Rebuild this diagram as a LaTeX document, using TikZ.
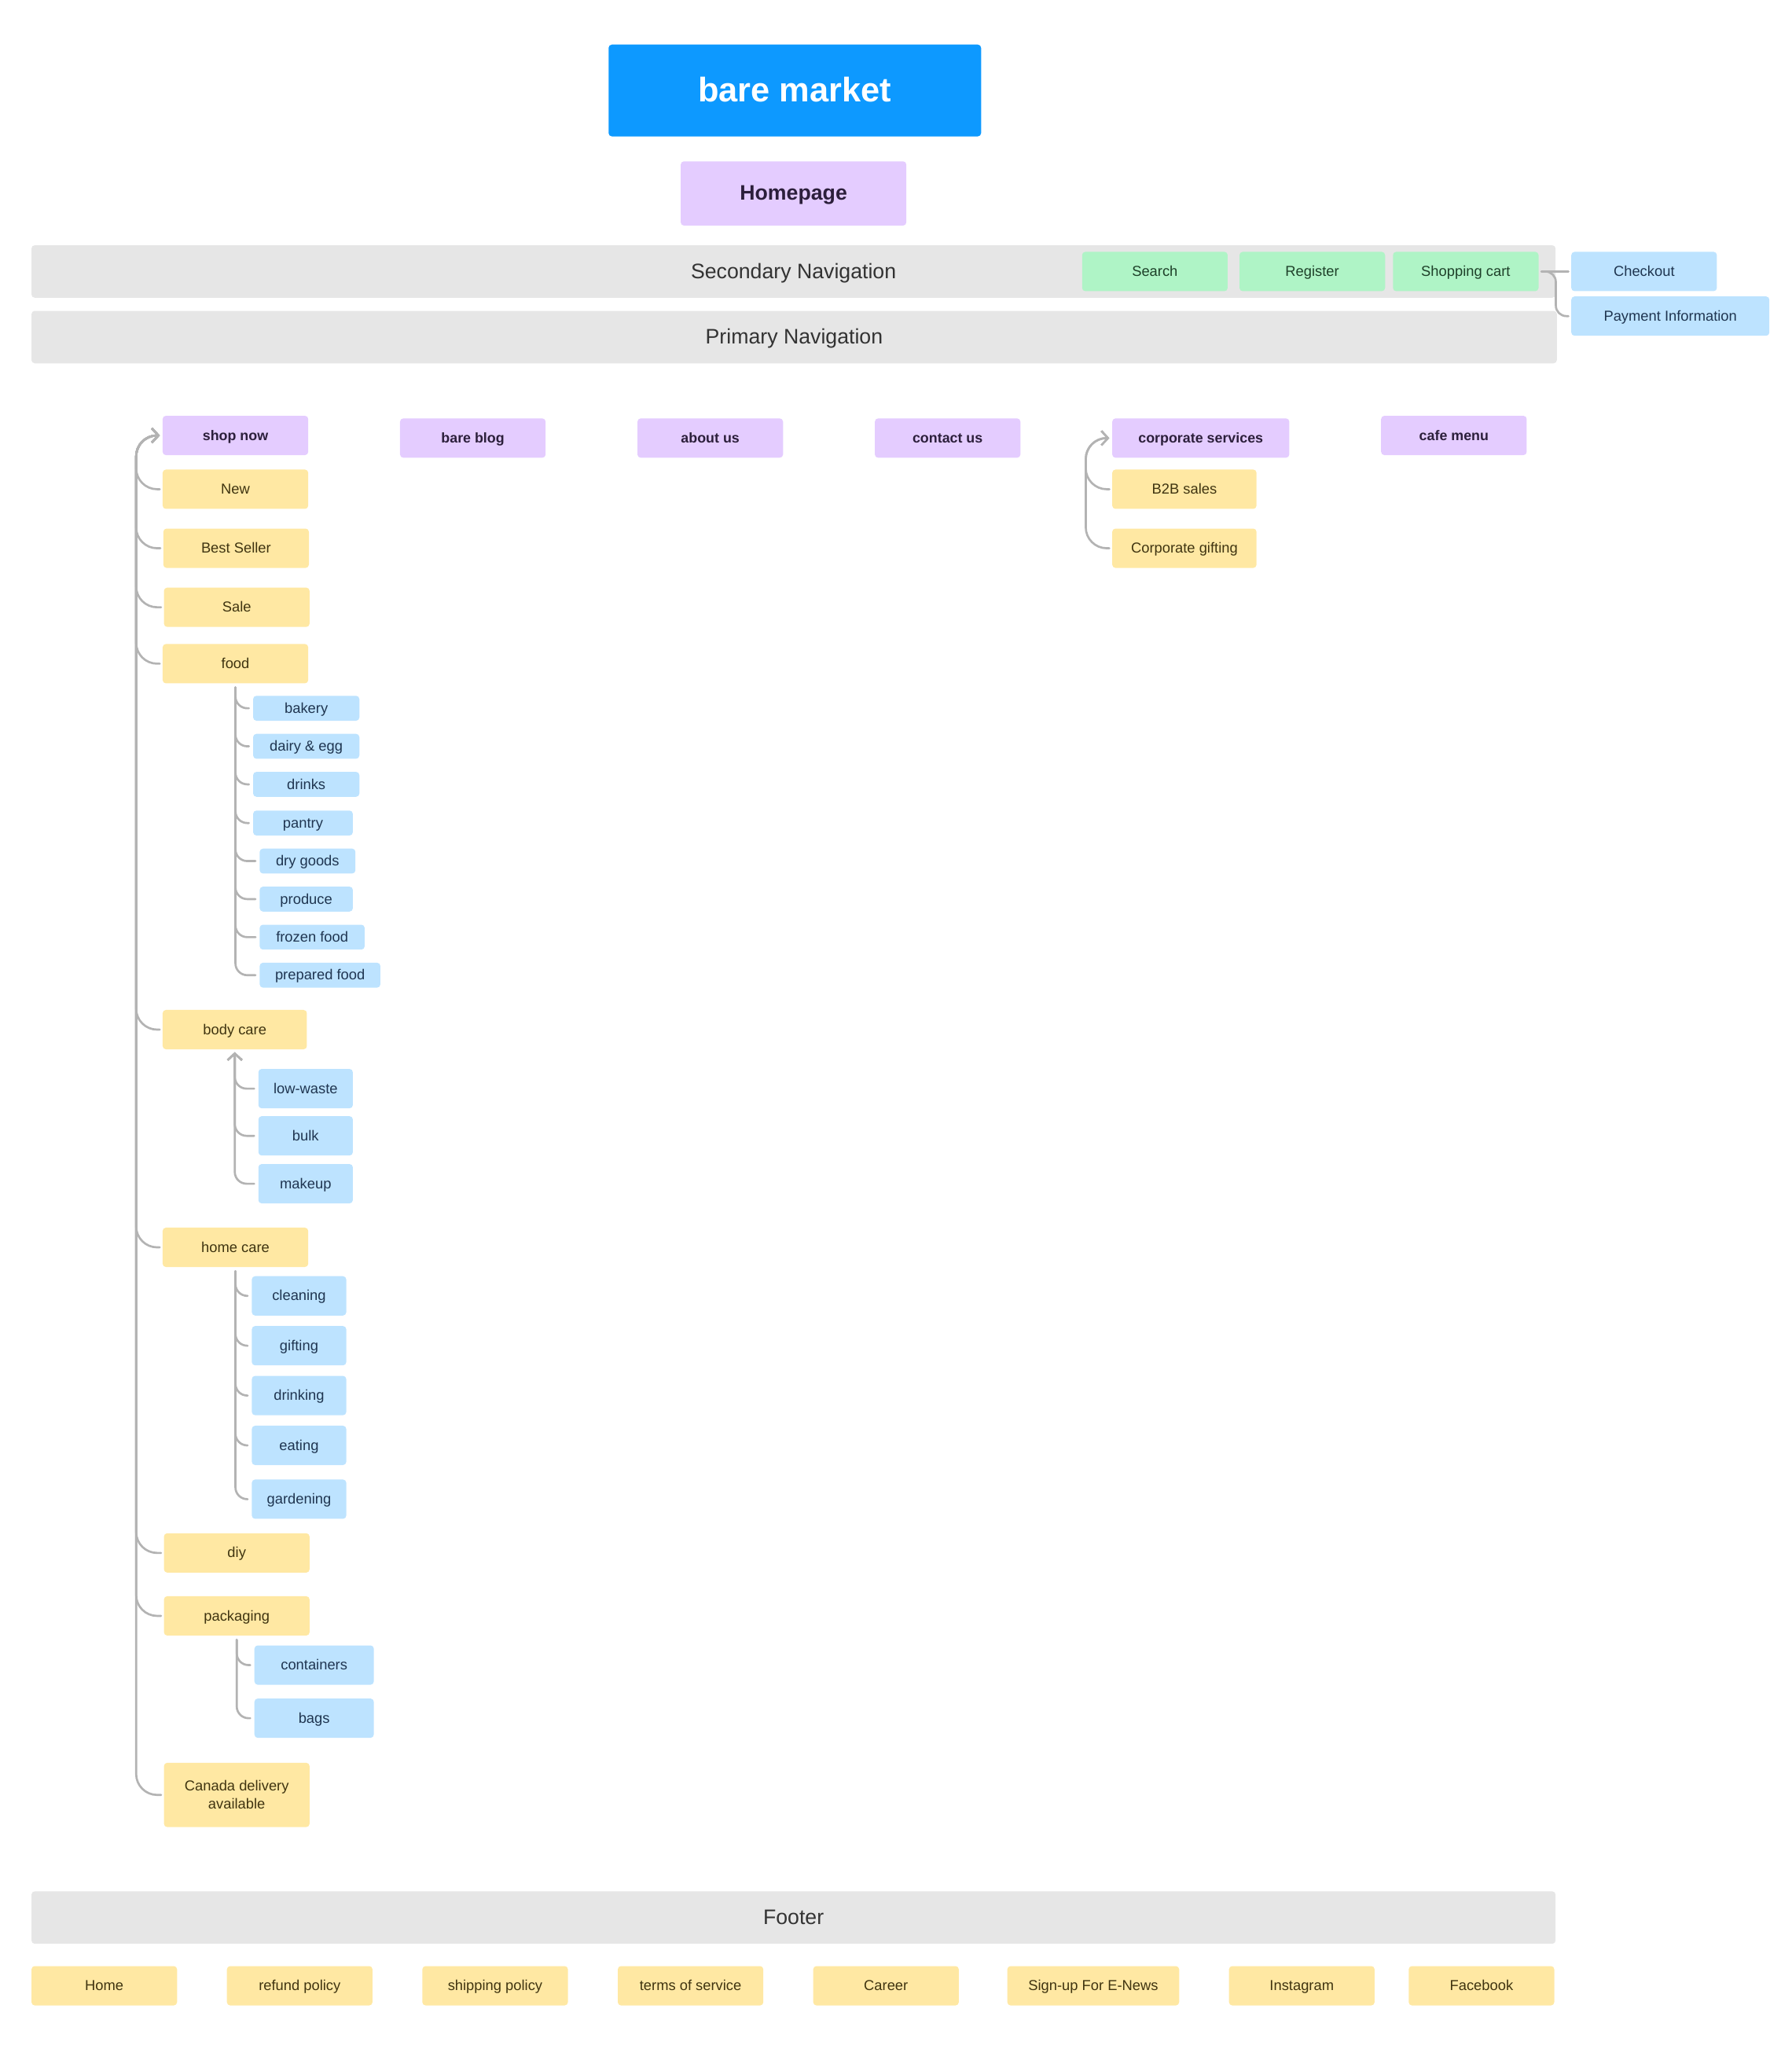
\documentclass[tikz,border=0pt]{standalone}
\usepackage{fontspec}
\setmainfont{Liberation Sans}
\usetikzlibrary{arrows.meta,calc}
\definecolor{cTitle}{HTML}{0D99FF}
\definecolor{cPurple}{HTML}{E4CCFF}
\definecolor{tPurple}{HTML}{2C1F3B}
\definecolor{cYellow}{HTML}{FFE8A3}
\definecolor{tYellow}{HTML}{3F3410}
\definecolor{cBlue}{HTML}{BDE3FF}
\definecolor{tBlue}{HTML}{1F3550}
\definecolor{cGreen}{HTML}{AFF4C6}
\definecolor{tGreen}{HTML}{1E4029}
\definecolor{cGray}{HTML}{E6E6E6}
\definecolor{tGray}{HTML}{333333}
\definecolor{cLine}{HTML}{B3B3B3}
\begin{document}
\begin{tikzpicture}[x=1pt,y=-1pt,
  box/.style={draw=none, rounded corners=2.5pt, inner sep=0pt, align=center, font=\fontsize{11}{14}\selectfont, text height=7.9pt, text depth=0.6pt},
  purp/.style={box, fill=cPurple, text=tPurple, font=\fontsize{10.7}{14}\selectfont\bfseries},
  yel/.style={box, fill=cYellow, text=tYellow},
  blu/.style={box, fill=cBlue, text=tBlue},
  grn/.style={box, fill=cGreen, text=tGreen},
  bar/.style={box, fill=cGray, text=tGray, font=\fontsize{16}{19}\selectfont, text height=11.5pt, text depth=1pt},
  sz/.style 2 args={minimum width=#1pt, minimum height=#2pt},
  conn/.style={draw=cLine, line width=1.6pt, line cap=round},
  tip/.style={-{Straight Barb[length=5pt,width=11pt]}, shorten >=2pt},
  big/.style={rounded corners=16pt},
  small/.style={rounded corners=9pt}
]
\useasboundingbox (0,0) rectangle (1366,1579);

% header
\node[box, fill=cTitle, text=white, font=\fontsize{26}{30}\selectfont\bfseries, text height=18.6pt, text depth=1.5pt, sz={284}{70}] (title) at (606,69) {bare market};
\node[purp, font=\fontsize{16}{19}\selectfont\bfseries, text height=11.5pt, text depth=1pt, sz={172}{49}] (homepage) at (605,147.5) {Homepage};

% secondary navigation
\node[bar, sz={1162}{40}] (secnav) at (605,207) {};
\node[text=tGray, font=\fontsize{16}{19}\selectfont, text height=11.5pt, text depth=1pt, inner sep=0pt] (secnavtxt) at (605,207) {Secondary Navigation};
\node[grn, sz={111}{30}] (search) at (880.5,207) {Search};
\node[grn, sz={111}{30}] (register) at (1000.5,207) {Register};
\node[grn, sz={111}{30}] (cart) at (1117.5,207) {Shopping cart};
\node[blu, sz={111}{30}] (checkout) at (1253.5,207) {Checkout};
\node[blu, sz={151}{30}] (payment) at (1273.5,241) {Payment Information};
\draw[conn, shorten <=2pt, shorten >=2pt] (cart.east) -- (checkout.west);
\draw[conn, rounded corners=8pt, shorten <=2pt, shorten >=2pt] (cart.east) -- ++(13,0) |- (payment.west);

% primary navigation
\node[bar, sz={1163}{40}] (primnav) at (605.5,257) {Primary Navigation};

% primary items
\node[purp, sz={111}{30}] (shop) at (179.5,332) {shop now};
\node[purp, sz={111}{30}] (blog) at (360.5,334) {bare blog};
\node[purp, sz={111}{30}] (about) at (541.5,334) {about us};
\node[purp, sz={111}{30}] (contact) at (722.5,334) {contact us};
\node[purp, sz={135}{30}] (corp) at (915.5,334) {corporate services};
\node[purp, sz={111}{30}] (cafe) at (1108.5,332) {cafe menu};

% shop now children
\node[yel, sz={111}{30}] (new) at (179.5,373) {New};
\node[yel, sz={111}{30}] (best) at (180,418) {Best Seller};
\node[yel, sz={111}{30}] (sale) at (180.5,463) {Sale};
\node[yel, sz={111}{30}] (food) at (179.5,506) {food};
\node[yel, sz={110}{30}] (body) at (179,785) {body care};
\node[yel, sz={111}{30}] (home) at (179.5,951) {home care};
\node[yel, sz={111}{30}] (diy) at (180.5,1184) {diy};
\node[yel, sz={111}{30}] (pack) at (180.5,1232) {packaging};
\node[yel, sz={111}{49}, text height=, text depth=] (canada) at (180.5,1368.5) {Canada delivery\\available};

\coordinate (shoptr) at ($(shop.west)+(-20,0)$);
\foreach \n in {new,best,sale,food,body,home,diy,pack,canada}
  \draw[conn, big, tip, shorten <=2pt] (\n.west) -| (shoptr) -- (shop.west);

% food children
\node[blu, sz={81}{19}] (bakery) at (233.5,540) {bakery};
\node[blu, sz={81}{19}] (dairy) at (233.5,569) {dairy \& egg};
\node[blu, sz={81}{19}] (drinks) at (233.5,598) {drinks};
\node[blu, sz={76}{19}] (pantry) at (231,627.5) {pantry};
\node[blu, sz={73}{19}] (dry) at (234.5,656.5) {dry goods};
\node[blu, sz={71}{19}] (produce) at (233.5,685.5) {produce};
\node[blu, sz={80}{19}] (frozen) at (238,714.5) {frozen food};
\node[blu, sz={92}{19}] (prepared) at (244,743.5) {prepared food};
\foreach \n in {bakery,dairy,drinks,pantry,dry,produce,frozen,prepared}
  \draw[conn, small, shorten <=3pt, shorten >=3pt] (food.south) |- (\n.west);

% body care children
\node[blu, sz={72}{30}] (lowwaste) at (233,830) {low-waste};
\node[blu, sz={72}{30}] (bulk) at (233,866) {bulk};
\node[blu, sz={72}{30}] (makeup) at (233,902.5) {makeup};
\foreach \n in {lowwaste,bulk,makeup}
  \draw[conn, small, tip, shorten <=3pt] (\n.west) -| (body.south);

% home care children
\node[blu, sz={72}{30}] (cleaning) at (228,988) {cleaning};
\node[blu, sz={72}{30}] (gifting) at (228,1026) {gifting};
\node[blu, sz={72}{30}] (drinking) at (228,1064) {drinking};
\node[blu, sz={72}{30}] (eating) at (228,1102) {eating};
\node[blu, sz={72}{30}] (gardening) at (228,1143) {gardening};
\foreach \n in {cleaning,gifting,drinking,eating,gardening}
  \draw[conn, small, shorten <=3pt, shorten >=3pt] (home.south) |- (\n.west);

% packaging children
\node[blu, sz={91}{30}] (containers) at (239.5,1269.5) {containers};
\node[blu, sz={91}{30}] (bags) at (239.5,1310) {bags};
\foreach \n in {containers,bags}
  \draw[conn, small, shorten <=3pt, shorten >=3pt] (pack.south) |- (\n.west);

% corporate services children
\node[yel, sz={110}{30}] (b2b) at (903,373) {B2B sales};
\node[yel, sz={110}{30}] (cgift) at (903,418) {Corporate gifting};
\coordinate (corptr) at ($(corp.west)+(-20,0)$);
\foreach \n in {b2b,cgift}
  \draw[conn, big, tip, shorten <=2pt] (\n.west) -| (corptr) -- (corp.west);

% footer
\node[bar, sz={1162}{40}] (footer) at (605,1462) {Footer};
\node[yel, sz={111}{30}] (fhome) at (79.5,1514) {Home};
\node[yel, sz={111}{30}] (frefund) at (228.5,1514) {refund policy};
\node[yel, sz={111}{30}] (fship) at (377.5,1514) {shipping policy};
\node[yel, sz={111}{30}] (fterms) at (526.5,1514) {terms of service};
\node[yel, sz={111}{30}] (fcareer) at (675.5,1514) {Career};
\node[yel, sz={131}{30}] (fsign) at (833.5,1514) {Sign-up For E-News};
\node[yel, sz={111}{30}] (finsta) at (992.5,1514) {Instagram};
\node[yel, sz={111}{30}] (ffb) at (1129.5,1514) {Facebook};
\end{tikzpicture}
\end{document}
